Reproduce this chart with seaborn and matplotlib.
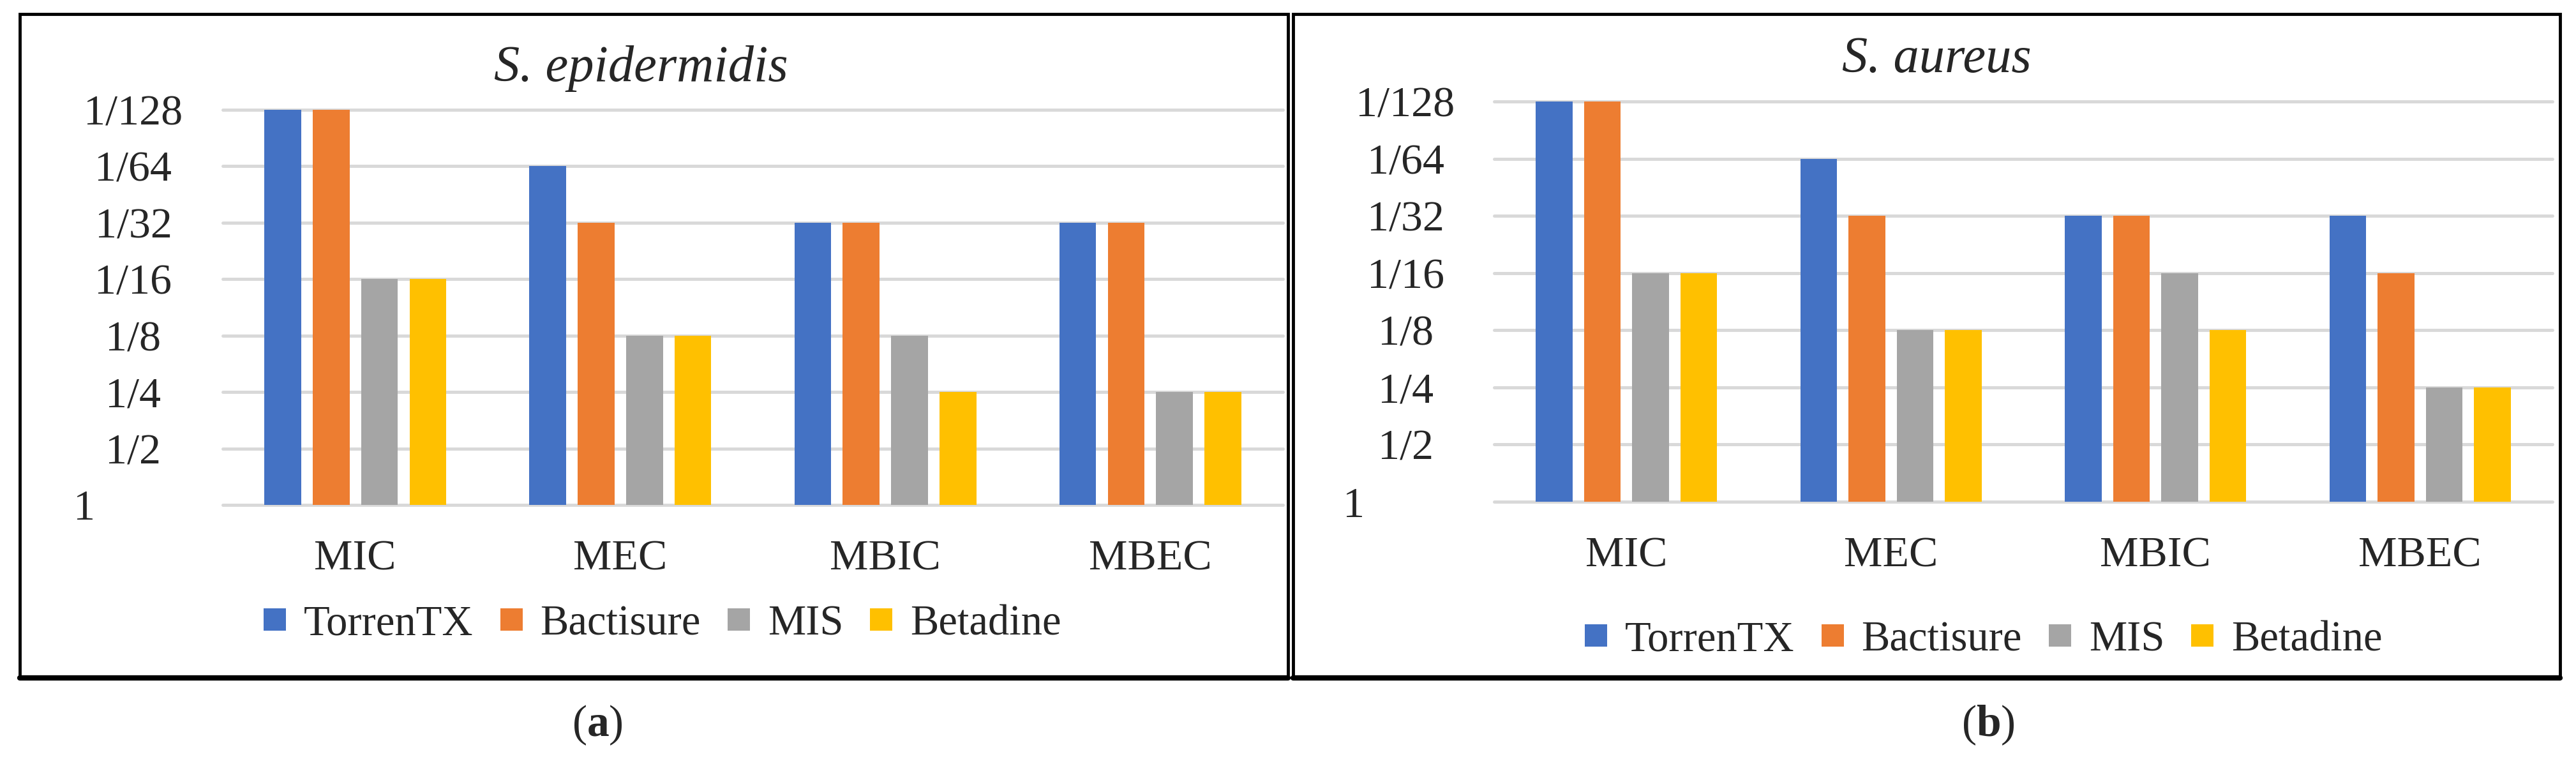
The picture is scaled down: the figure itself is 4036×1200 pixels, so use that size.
#!/usr/bin/env python
"""
  Dilution endpoints of four antiseptics against two staphylococci
"""

import numpy as np
import pandas as pd
import matplotlib
matplotlib.use('Agg')
import matplotlib.pyplot as plt
import matplotlib.patches as mpatches
import matplotlib.transforms as mtrans
import seaborn as sns

W, H, DPI = 4037, 1200, 100

# data: highest effective dilution, given as the denominator (1/N)
tests = ["MIC", "MEC", "MBIC", "MBEC"]
agents = ["TorrenTX", "Bactisure", "MIS", "Betadine"]
colors = ["#4472C4", "#ED7D31", "#A5A5A5", "#FFC000"]
tick_labels = ["1", "1/2", "1/4", "1/8", "1/16", "1/32", "1/64", "1/128"]

epi_torrentx = [128, 64, 32, 32]
epi_bactisure = [128, 32, 32, 32]
epi_mis = [16, 8, 8, 4]
epi_betadine = [16, 8, 4, 4]

aur_torrentx = [128, 64, 32, 32]
aur_bactisure = [128, 32, 32, 16]
aur_mis = [16, 8, 16, 4]
aur_betadine = [16, 8, 8, 4]


def make_frame(series):
  rows = []
  for agent, vals in zip(agents, series):
    for test, v in zip(tests, vals):
      rows.append([test, agent, np.log2(v)])
  return pd.DataFrame(rows, columns=["test", "agent", "level"])


def px(x0, y0, x1, y1):
  """ pixel box (top-left origin) -> figure fraction rect """
  return [x0 / W, 1 - y1 / H, (x1 - x0) / W, (y1 - y0) / H]


def draw_panel(fig, rect, df, title, title_xy, legend_xy, ypad, one_shift):
  ax = fig.add_axes(rect)
  sns.barplot(data=df, x="test", y="level", hue="agent", hue_order=agents,
              palette=colors, width=0.73, gap=0.24, saturation=1,
              linewidth=0, ax=ax)
  handles, labels = ax.get_legend_handles_labels()
  ax.get_legend().remove()

  ax.set_xlim(-0.5, 3.5)
  ax.set_ylim(0, 7)
  ax.set_yticks(range(8))
  ax.set_yticklabels(tick_labels)
  ax.set(xlabel="", ylabel="")
  for s in ax.spines.values():
    s.set_visible(False)
  ax.yaxis.grid(True, color="#D9D9D9", linewidth=3.6)
  ax.xaxis.grid(False)
  ax.set_axisbelow(True)
  for line in ax.get_ygridlines():
    line.set_clip_on(False)
  ax.tick_params(axis="y", length=0, pad=ypad, labelsize=49)
  ax.tick_params(axis="x", length=0, pad=39, labelsize=49)
  for lab in ax.get_yticklabels():
    lab.set_horizontalalignment("center")
  # the "1" label sits further left in the original
  one = ax.get_yticklabels()[0]
  one.set_transform(one.get_transform() +
                    mtrans.ScaledTranslation(one_shift / DPI, 0, fig.dpi_scale_trans))

  fig.text(title_xy[0] / W, 1 - title_xy[1] / H, title, ha="center",
           va="baseline", fontsize=58, fontstyle="italic")
  fig.legend(handles, labels, loc="center",
             bbox_to_anchor=(legend_xy[0] / W, 1 - legend_xy[1] / H),
             ncol=4, frameon=False, fontsize=48, handlelength=0.525,
             handleheight=0.43, handletextpad=0.42, columnspacing=0.63,
             borderpad=0, borderaxespad=0)
  return ax


def main():
  sns.set_style("white")
  plt.rcParams["font.family"] = ["Liberation Serif", "DejaVu Serif"]
  plt.rcParams["mathtext.fontset"] = "custom"
  plt.rcParams["mathtext.rm"] = "Liberation Serif"
  plt.rcParams["mathtext.bf"] = "Liberation Serif:bold"

  fig = plt.figure(figsize=(W / DPI, H / DPI), dpi=DPI)

  epi = make_frame([epi_torrentx, epi_bactisure, epi_mis, epi_betadine])
  aur = make_frame([aur_torrentx, aur_bactisure, aur_mis, aur_betadine])

  draw_panel(fig, px(349, 172, 2010, 791), epi, "S. epidermidis",
             (1004, 127), (1038, 978), 100.8, -77)
  draw_panel(fig, px(2341, 159, 3999, 786), aur, "S. aureus",
             (3034, 113), (3108, 1003), 100, -81)

  # panel frames and (a)/(b) labels
  for x0, x1, lab, lx in ((31, 2018, "a", 936), (2026, 4011, "b", 3115)):
    r = px(x0, 22, x1, 1062)
    fig.patches.append(mpatches.Rectangle((r[0], r[1]), r[2], r[3], fill=False,
                                          edgecolor="black", linewidth=3.5,
                                          transform=fig.transFigure))
    fig.lines.append(plt.Line2D([r[0], r[0] + r[2]], [r[1], r[1]], color="black",
                                linewidth=6, transform=fig.transFigure))
    fig.text(lx / W, 1 - 1136 / H, "(" + r"$\mathbf{" + lab + "}$" + ")",
             ha="center", va="center", fontsize=50)

  fig.savefig("out.png", dpi=DPI)


if __name__ == "__main__":
  main()
